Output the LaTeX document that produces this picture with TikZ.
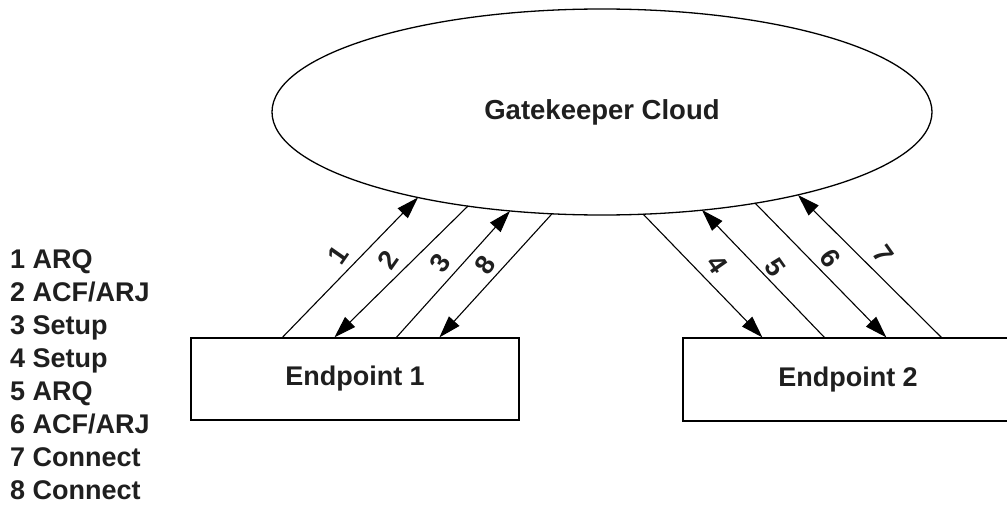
\documentclass[tikz,border=0pt]{standalone}
\usepackage{fontspec}
\setmainfont{Liberation Sans}
\usetikzlibrary{shapes.geometric,arrows.meta,calc}
\begin{document}
\begin{tikzpicture}[x=1pt,y=-1pt,
  every node/.style={font=\bfseries\fontsize{27}{32}\selectfont, text=black!88},
  cloudshape/.style={ellipse, draw, line width=1.3pt, minimum width=660pt, minimum height=206pt, inner sep=0pt, font=\bfseries\fontsize{27.5}{32}\selectfont},
  boxshape/.style={rectangle, draw, line width=1.2pt, inner sep=0pt},
  msg/.style={line width=1.1pt, -{Triangle[length=22pt,width=14pt]}},
  digit/.style={font=\bfseries\fontsize{27}{30}\selectfont, inner sep=0pt},
  legend/.style={anchor=base west, inner sep=0pt}
]
\useasboundingbox (0,0) rectangle (1007,511);

\node[cloudshape] (cloud) at (602,112) {Gatekeeper Cloud};
\node[boxshape, minimum width=328pt, minimum height=82pt] (ep1) at (355,379) {Endpoint 1};
\node[boxshape, minimum width=330pt, minimum height=83pt] (ep2) at (848,379.5) {Endpoint 2};

% points on the endpoint boxes
\coordinate (b1) at ([xshift=92pt]ep1.north west);
\coordinate (b2) at ([xshift=144pt]ep1.north west);
\coordinate (b3) at ([xshift=206pt]ep1.north west);
\coordinate (b8) at ([xshift=249pt]ep1.north west);
\coordinate (b4) at ([xshift=80pt]ep2.north west);
\coordinate (b5) at ([xshift=142pt]ep2.north west);
\coordinate (b6) at ([xshift=204pt]ep2.north west);
\coordinate (b7) at ([xshift=259pt]ep2.north west);
% points on the cloud border
\coordinate (c1) at (418,197.5);
\coordinate (c2) at (468,206);
\coordinate (c3) at (510,211);
\coordinate (c8) at (552,213.8);
\coordinate (c4) at (643,214);
\coordinate (c5) at (702,210);
\coordinate (c6) at (755,203);
\coordinate (c7) at (798,195);

\draw[msg] (b1) -- (c1);
\draw[msg] (c2) -- (b2);
\draw[msg] (b3) -- (c3);
\draw[msg] (c8) -- (b8);
\draw[msg] (c4) -- (b4);
\draw[msg] (b5) -- (c5);
\draw[msg] (c6) -- (b6);
\draw[msg] (b7) -- (c7);

\node[digit, rotate=55] (d1) at (338,255) {1};
\node[digit, rotate=55] (d2) at (388,260) {2};
\node[digit, rotate=55] (d3) at (440,263) {3};
\node[digit, rotate=55] (d8) at (485,265) {8};
\node[digit, rotate=-55] (d4) at (717,264) {4};
\node[digit, rotate=-55] (d5) at (775,267) {5};
\node[digit, rotate=-55] (d6) at (830,258) {6};
\node[digit, rotate=-55] (d7) at (883,254) {7};

\node[legend] (l1) at (10,268) {1 ARQ};
\node[legend] (l2) at (10,301) {2 ACF/ARJ};
\node[legend] (l3) at (10,334) {3 Setup};
\node[legend] (l4) at (10,367) {4 Setup};
\node[legend] (l5) at (10,400) {5 ARQ};
\node[legend] (l6) at (10,433) {6 ACF/ARJ};
\node[legend] (l7) at (10,466) {7 Connect};
\node[legend] (l8) at (10,499) {8 Connect};
\end{tikzpicture}
\end{document}
